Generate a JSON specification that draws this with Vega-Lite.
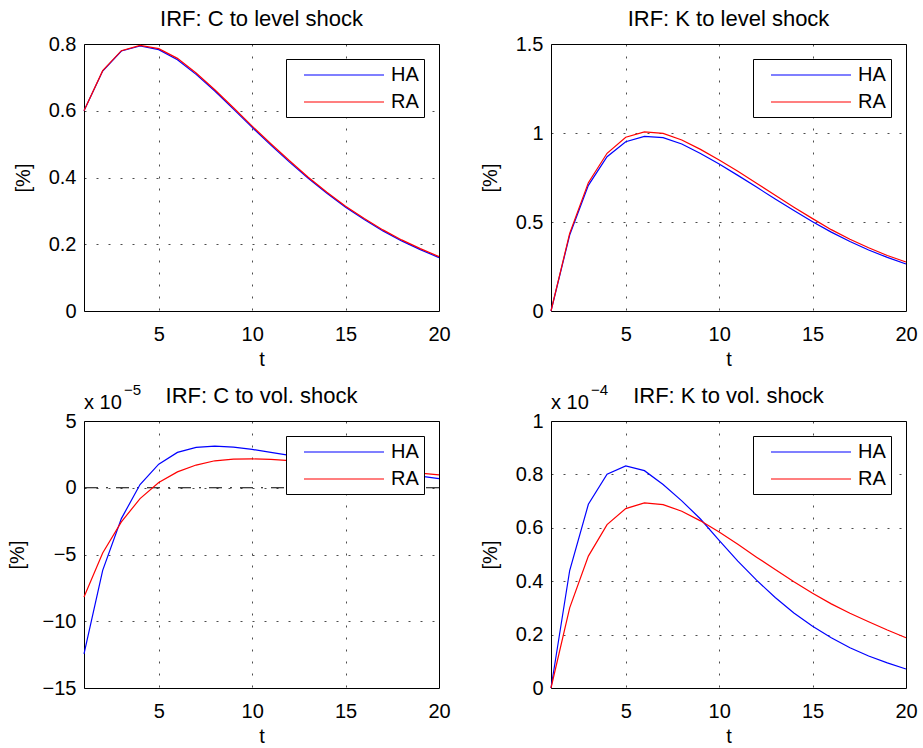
{
  "$schema": "https://vega.github.io/schema/vega-lite/v6.json",
  "padding": {"left": 6, "top": 7, "right": 5, "bottom": 5},
  "background": "white",
  "datasets": {
    "cl": [
      {"t":1,"s":"HA","v":0.600},{"t":2,"s":"HA","v":0.719},{"t":3,"s":"HA","v":0.779},{"t":4,"s":"HA","v":0.794},{"t":5,"s":"HA","v":0.783},
      {"t":6,"s":"HA","v":0.753},{"t":7,"s":"HA","v":0.709},{"t":8,"s":"HA","v":0.659},{"t":9,"s":"HA","v":0.605},{"t":10,"s":"HA","v":0.550},
      {"t":11,"s":"HA","v":0.497},{"t":12,"s":"HA","v":0.446},{"t":13,"s":"HA","v":0.398},{"t":14,"s":"HA","v":0.353},{"t":15,"s":"HA","v":0.311},
      {"t":16,"s":"HA","v":0.274},{"t":17,"s":"HA","v":0.240},{"t":18,"s":"HA","v":0.210},{"t":19,"s":"HA","v":0.184},{"t":20,"s":"HA","v":0.160},
      {"t":1,"s":"RA","v":0.600},{"t":2,"s":"RA","v":0.720},{"t":3,"s":"RA","v":0.780},{"t":4,"s":"RA","v":0.796},{"t":5,"s":"RA","v":0.786},
      {"t":6,"s":"RA","v":0.757},{"t":7,"s":"RA","v":0.713},{"t":8,"s":"RA","v":0.663},{"t":9,"s":"RA","v":0.609},{"t":10,"s":"RA","v":0.554},
      {"t":11,"s":"RA","v":0.501},{"t":12,"s":"RA","v":0.450},{"t":13,"s":"RA","v":0.401},{"t":14,"s":"RA","v":0.356},{"t":15,"s":"RA","v":0.314},
      {"t":16,"s":"RA","v":0.277},{"t":17,"s":"RA","v":0.243},{"t":18,"s":"RA","v":0.213},{"t":19,"s":"RA","v":0.187},{"t":20,"s":"RA","v":0.163}
    ],
    "kl": [
      {"t":1,"s":"HA","v":0},{"t":2,"s":"HA","v":0.427},{"t":3,"s":"HA","v":0.706},{"t":4,"s":"HA","v":0.867},{"t":5,"s":"HA","v":0.951},
      {"t":6,"s":"HA","v":0.981},{"t":7,"s":"HA","v":0.974},{"t":8,"s":"HA","v":0.938},{"t":9,"s":"HA","v":0.885},{"t":10,"s":"HA","v":0.826},
      {"t":11,"s":"HA","v":0.762},{"t":12,"s":"HA","v":0.696},{"t":13,"s":"HA","v":0.629},{"t":14,"s":"HA","v":0.564},{"t":15,"s":"HA","v":0.502},
      {"t":16,"s":"HA","v":0.443},{"t":17,"s":"HA","v":0.390},{"t":18,"s":"HA","v":0.343},{"t":19,"s":"HA","v":0.301},{"t":20,"s":"HA","v":0.264},
      {"t":1,"s":"RA","v":0},{"t":2,"s":"RA","v":0.436},{"t":3,"s":"RA","v":0.721},{"t":4,"s":"RA","v":0.886},{"t":5,"s":"RA","v":0.976},
      {"t":6,"s":"RA","v":1.006},{"t":7,"s":"RA","v":0.998},{"t":8,"s":"RA","v":0.961},{"t":9,"s":"RA","v":0.908},{"t":10,"s":"RA","v":0.848},
      {"t":11,"s":"RA","v":0.785},{"t":12,"s":"RA","v":0.718},{"t":13,"s":"RA","v":0.650},{"t":14,"s":"RA","v":0.583},{"t":15,"s":"RA","v":0.519},
      {"t":16,"s":"RA","v":0.457},{"t":17,"s":"RA","v":0.403},{"t":18,"s":"RA","v":0.355},{"t":19,"s":"RA","v":0.312},{"t":20,"s":"RA","v":0.275}
    ],
    "cv": [
      {"t":1,"s":"HA","v":-12.45},{"t":2,"s":"HA","v":-6.19},{"t":3,"s":"HA","v":-2.31},{"t":4,"s":"HA","v":0.24},{"t":5,"s":"HA","v":1.77},
      {"t":6,"s":"HA","v":2.65},{"t":7,"s":"HA","v":3.02},{"t":8,"s":"HA","v":3.12},{"t":9,"s":"HA","v":3.05},{"t":10,"s":"HA","v":2.87},
      {"t":11,"s":"HA","v":2.65},{"t":12,"s":"HA","v":2.42},{"t":13,"s":"HA","v":2.17},{"t":14,"s":"HA","v":1.92},{"t":15,"s":"HA","v":1.68},
      {"t":16,"s":"HA","v":1.46},{"t":17,"s":"HA","v":1.25},{"t":18,"s":"HA","v":1.05},{"t":19,"s":"HA","v":0.87},{"t":20,"s":"HA","v":0.68},
      {"t":1,"s":"RA","v":-8.19},{"t":2,"s":"RA","v":-4.89},{"t":3,"s":"RA","v":-2.56},{"t":4,"s":"RA","v":-0.81},{"t":5,"s":"RA","v":0.39},
      {"t":6,"s":"RA","v":1.19},{"t":7,"s":"RA","v":1.70},{"t":8,"s":"RA","v":2.02},{"t":9,"s":"RA","v":2.14},{"t":10,"s":"RA","v":2.16},
      {"t":11,"s":"RA","v":2.12},{"t":12,"s":"RA","v":2.03},{"t":13,"s":"RA","v":1.92},{"t":14,"s":"RA","v":1.79},{"t":15,"s":"RA","v":1.65},
      {"t":16,"s":"RA","v":1.51},{"t":17,"s":"RA","v":1.37},{"t":18,"s":"RA","v":1.23},{"t":19,"s":"RA","v":1.09},{"t":20,"s":"RA","v":0.96}
    ],
    "kv": [
      {"t":1,"s":"HA","v":0},{"t":2,"s":"HA","v":0.44},{"t":3,"s":"HA","v":0.688},{"t":4,"s":"HA","v":0.801},{"t":5,"s":"HA","v":0.832},
      {"t":6,"s":"HA","v":0.814},{"t":7,"s":"HA","v":0.762},{"t":8,"s":"HA","v":0.701},{"t":9,"s":"HA","v":0.633},{"t":10,"s":"HA","v":0.553},
      {"t":11,"s":"HA","v":0.475},{"t":12,"s":"HA","v":0.404},{"t":13,"s":"HA","v":0.339},{"t":14,"s":"HA","v":0.281},{"t":15,"s":"HA","v":0.231},
      {"t":16,"s":"HA","v":0.188},{"t":17,"s":"HA","v":0.151},{"t":18,"s":"HA","v":0.120},{"t":19,"s":"HA","v":0.094},{"t":20,"s":"HA","v":0.071},
      {"t":1,"s":"RA","v":0},{"t":2,"s":"RA","v":0.30},{"t":3,"s":"RA","v":0.494},{"t":4,"s":"RA","v":0.612},{"t":5,"s":"RA","v":0.672},
      {"t":6,"s":"RA","v":0.693},{"t":7,"s":"RA","v":0.687},{"t":8,"s":"RA","v":0.662},{"t":9,"s":"RA","v":0.626},{"t":10,"s":"RA","v":0.584},
      {"t":11,"s":"RA","v":0.538},{"t":12,"s":"RA","v":0.490},{"t":13,"s":"RA","v":0.444},{"t":14,"s":"RA","v":0.398},{"t":15,"s":"RA","v":0.355},
      {"t":16,"s":"RA","v":0.315},{"t":17,"s":"RA","v":0.280},{"t":18,"s":"RA","v":0.248},{"t":19,"s":"RA","v":0.217},{"t":20,"s":"RA","v":0.188}
    ]
  },
  "config": {
    "font": "Liberation Sans",
    "view": {"stroke": "black", "strokeWidth": 1},
    "title": {"fontSize": 22, "fontWeight": "normal", "color": "black", "font": "Liberation Sans", "offset": 3},
    "axis": {
      "domain": false, "ticks": false, "grid": true,
      "gridColor": "#000000", "gridOpacity": 0.7, "gridDash": [2, 10], "gridWidth": 1,
      "labelFont": "Liberation Sans", "labelFontSize": 20, "labelColor": "black", "labelPadding": 8,
      "titleFont": "Liberation Sans", "titleFontSize": 20, "titleFontWeight": "normal", "titleColor": "black"
    },
    "axisX": {"labelPadding": 13, "titlePadding": 5, "labelFlush": false},
    "axisY": {"titlePadding": 15},
    "legend": {
      "orient": "top-right", "offset": 15, "padding": 5,
      "strokeColor": "black", "fillColor": "white", "cornerRadius": 0,
      "labelFont": "Liberation Sans", "labelFontSize": 20, "labelColor": "black",
      "symbolType": "M -4 0 L 4 0", "symbolSize": 400, "symbolStrokeWidth": 1.2,
      "symbolOffset": 42, "labelOffset": 36, "rowPadding": 6
    }
  },
  "columns": 2,
  "bounds": "flush",
  "spacing": {"row": 110, "column": 112},
  "resolve": {"scale": {"color": "independent", "x": "independent", "y": "independent"}},
  "concat": [
    {
      "width": 355, "height": 267,
      "title": "IRF: C to level shock",
      "data": {"name": "cl"},
      "mark": {"type": "line", "strokeWidth": 1.2},
      "encoding": {
        "x": {"field": "t", "type": "quantitative", "scale": {"domain": [1, 20], "nice": false, "zero": false}, "axis": {"values": [5, 10, 15, 20], "title": "t"}},
        "y": {"field": "v", "type": "quantitative", "scale": {"domain": [0, 0.8], "nice": false, "zero": false}, "axis": {"values": [0, 0.2, 0.4, 0.6, 0.8], "format": "~g", "title": "[%]"}},
        "color": {"field": "s", "type": "nominal", "scale": {"domain": ["HA", "RA"], "range": ["#0000ff", "#ff0000"]}, "legend": {"title": null}}
      }
    },
    {
      "width": 355, "height": 267,
      "title": "IRF: K to level shock",
      "data": {"name": "kl"},
      "mark": {"type": "line", "strokeWidth": 1.2},
      "encoding": {
        "x": {"field": "t", "type": "quantitative", "scale": {"domain": [1, 20], "nice": false, "zero": false}, "axis": {"values": [5, 10, 15, 20], "title": "t"}},
        "y": {"field": "v", "type": "quantitative", "scale": {"domain": [0, 1.5], "nice": false, "zero": false}, "axis": {"values": [0, 0.5, 1, 1.5], "format": "~g", "title": "[%]"}},
        "color": {"field": "s", "type": "nominal", "scale": {"domain": ["HA", "RA"], "range": ["#0000ff", "#ff0000"]}, "legend": {"title": null}}
      }
    },
    {
      "width": 355, "height": 267,
      "title": {"text": "IRF: C to vol. shock", "offset": -25},
      "layer": [
        {
          "data": {"values": [{"ref": 0}]},
          "mark": {"type": "rule", "color": "black", "strokeWidth": 1, "strokeDash": [13, 8, 2, 8]},
          "encoding": {"y": {"field": "ref", "type": "quantitative"}}
        },
        {
          "data": {"name": "cv"},
          "mark": {"type": "line", "strokeWidth": 1.2},
          "encoding": {
            "x": {"field": "t", "type": "quantitative", "scale": {"domain": [1, 20], "nice": false, "zero": false}, "axis": {"values": [5, 10, 15, 20], "title": "t"}},
            "y": {"field": "v", "type": "quantitative", "scale": {"domain": [-15, 5], "nice": false, "zero": false}, "axis": {"values": [-15, -10, -5, 0, 5], "format": "~g", "title": "[%]"}},
            "color": {"field": "s", "type": "nominal", "scale": {"domain": ["HA", "RA"], "range": ["#0000ff", "#ff0000"]}, "legend": {"title": null}}
          }
        },
        {
          "data": {"values": [{"t": 1, "v": 5, "label": "x 10"}]},
          "mark": {"type": "text", "align": "left", "baseline": "alphabetic", "dy": -12, "fontSize": 20, "color": "black"},
          "encoding": {"x": {"field": "t", "type": "quantitative"}, "y": {"field": "v", "type": "quantitative"}, "text": {"field": "label"}}
        },
        {
          "data": {"values": [{"t": 1, "v": 5, "label": "−5"}]},
          "mark": {"type": "text", "align": "left", "baseline": "alphabetic", "dx": 40, "dy": -26, "fontSize": 15, "color": "black"},
          "encoding": {"x": {"field": "t", "type": "quantitative"}, "y": {"field": "v", "type": "quantitative"}, "text": {"field": "label"}}
        }
      ]
    },
    {
      "width": 355, "height": 267,
      "title": {"text": "IRF: K to vol. shock", "offset": -25},
      "layer": [
        {
          "data": {"name": "kv"},
          "mark": {"type": "line", "strokeWidth": 1.2},
          "encoding": {
            "x": {"field": "t", "type": "quantitative", "scale": {"domain": [1, 20], "nice": false, "zero": false}, "axis": {"values": [5, 10, 15, 20], "title": "t"}},
            "y": {"field": "v", "type": "quantitative", "scale": {"domain": [0, 1], "nice": false, "zero": false}, "axis": {"values": [0, 0.2, 0.4, 0.6, 0.8, 1], "format": "~g", "title": "[%]"}},
            "color": {"field": "s", "type": "nominal", "scale": {"domain": ["HA", "RA"], "range": ["#0000ff", "#ff0000"]}, "legend": {"title": null}}
          }
        },
        {
          "data": {"values": [{"t": 1, "v": 1, "label": "x 10"}]},
          "mark": {"type": "text", "align": "left", "baseline": "alphabetic", "dy": -12, "fontSize": 20, "color": "black"},
          "encoding": {"x": {"field": "t", "type": "quantitative"}, "y": {"field": "v", "type": "quantitative"}, "text": {"field": "label"}}
        },
        {
          "data": {"values": [{"t": 1, "v": 1, "label": "−4"}]},
          "mark": {"type": "text", "align": "left", "baseline": "alphabetic", "dx": 40, "dy": -26, "fontSize": 15, "color": "black"},
          "encoding": {"x": {"field": "t", "type": "quantitative"}, "y": {"field": "v", "type": "quantitative"}, "text": {"field": "label"}}
        }
      ]
    }
  ]
}
